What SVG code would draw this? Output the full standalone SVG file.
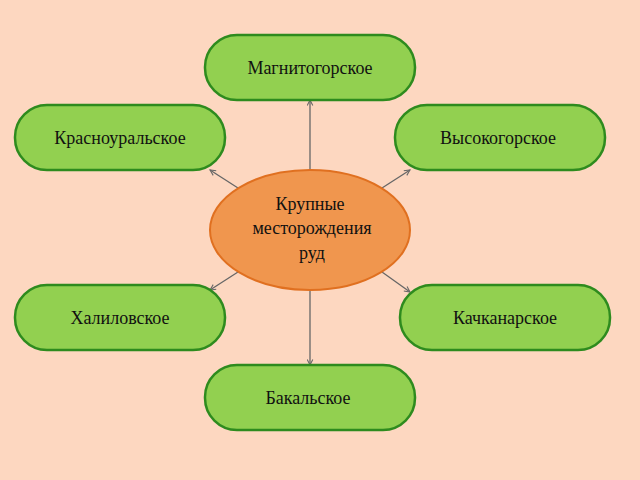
<svg xmlns="http://www.w3.org/2000/svg" width="640" height="480" viewBox="0 0 640 480">
<style>
.n{fill:#92d050;stroke:#2e8b1e;stroke-width:2.5}
.t{font-family:"Liberation Serif",serif;font-size:18px;fill:#111;text-anchor:middle}
.c{stroke:#666;stroke-width:1.3;fill:none;marker-end:url(#a)}
</style>
<defs><marker id="a" viewBox="0 0 10 10" refX="9" refY="5" markerWidth="7" markerHeight="7" orient="auto" markerUnits="userSpaceOnUse"><path d="M1,1 L9,5 L1,9" fill="none" stroke="#666" stroke-width="1.5"/></marker></defs>
<rect width="640" height="480" fill="#fdd7c0"/>
<g id="connectors">
<line class="c" x1="310" y1="170" x2="310" y2="100"/>
<line class="c" x1="310" y1="290" x2="310" y2="365"/>
<line class="c" x1="238" y1="188" x2="210" y2="170"/>
<line class="c" x1="382" y1="188" x2="410" y2="170"/>
<line class="c" x1="238" y1="272" x2="210" y2="290"/>
<line class="c" x1="382" y1="272" x2="410" y2="292"/>
</g>
<g id="center"><ellipse cx="310" cy="230" rx="100" ry="60" fill="#f0964e" stroke="#e07020" stroke-width="2"/>
<text class="t" x="310" y="210">Крупные</text><text class="t" x="312" y="234">месторождения</text><text class="t" x="312" y="259">руд</text></g>
<g id="n1"><rect class="n" x="205" y="35" width="210" height="65" rx="32"/><text class="t" x="310" y="74">Магнитогорское</text></g>
<g id="n2"><rect class="n" x="15" y="105" width="210" height="65" rx="32"/><text class="t" x="120" y="144">Красноуральское</text></g>
<g id="n3"><rect class="n" x="395" y="105" width="210" height="65" rx="32"/><text class="t" x="498" y="144">Высокогорское</text></g>
<g id="n4"><rect class="n" x="15" y="285" width="210" height="65" rx="32"/><text class="t" x="120" y="324">Халиловское</text></g>
<g id="n5"><rect class="n" x="400" y="285" width="210" height="65" rx="32"/><text class="t" x="505" y="324">Качканарское</text></g>
<g id="n6"><rect class="n" x="205" y="365" width="210" height="65" rx="32"/><text class="t" x="308" y="404">Бакальское</text></g>
</svg>
